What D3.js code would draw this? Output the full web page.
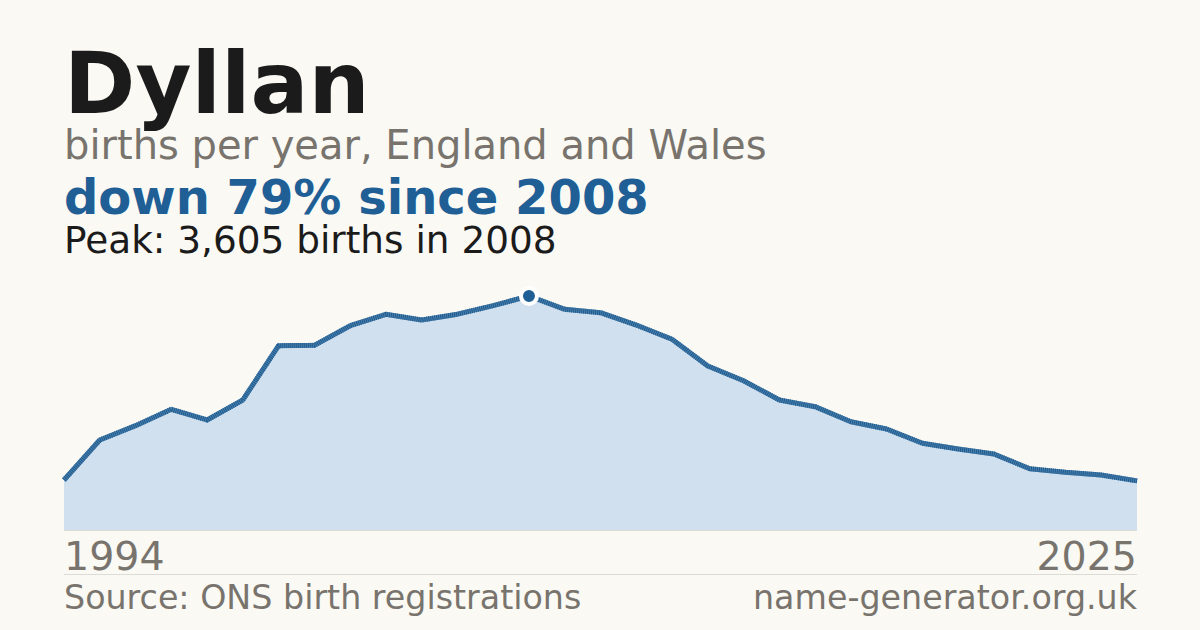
<!DOCTYPE html>
<html>
<head>
<meta charset="utf-8">
<script src="https://cdn.jsdelivr.net/npm/d3@7"></script>
<style>
  html, body { margin: 0; padding: 0; background: #faf9f4; }
  svg { display: block; font-family: "DejaVu Sans", sans-serif; }
</style>
</head>
<body>
<svg id="chart" width="1200" height="630"></svg>
<script>
// ONS publishes annual counts from 1996; 1994 is the earlier decade snapshot
var years = [1994, 1996, 1997, 1998, 1999, 2000, 2001, 2002, 2003, 2004, 2005,
             2006, 2007, 2008, 2009, 2010, 2011, 2012, 2013, 2014, 2015, 2016,
             2017, 2018, 2019, 2020, 2021, 2022, 2023, 2024, 2025];
var births = [770, 1387, 1607, 1859, 1695, 2003, 2840, 2845, 3147, 3323, 3235,
              3325, 3456, 3605, 3400, 3348, 3158, 2938, 2527, 2300, 2003, 1900,
              1668, 1556, 1336, 1248, 1171, 944, 889, 847, 757];

var name = 'Dyllan',
    subtitle = 'births per year, England and Wales',
    source = 'Source: ONS birth registrations',
    site = 'name-generator.org.uk';

var W = 1200, H = 630,
    left = 64, right = 1137,
    chartTop = 296, chartBottom = 530;

var data = years.map(function(y, i) { return {year: y, value: births[i]}; });
var peak = data.reduce(function(a, b) { return b.value > a.value ? b : a; });
var last = data[data.length - 1];
var pctDown = Math.round((1 - last.value / peak.value) * 100);

var svg = d3.select('#chart');

svg.append('rect').attr('width', W).attr('height', H).attr('fill', '#faf9f4');

var x = d3.scalePoint().domain(years).range([left, right]);
var y = d3.scaleLinear().domain([0, peak.value]).range([chartBottom, chartTop]);

// header text
svg.append('text')
    .attr('x', left).attr('y', 113)
    .style('font-size', '86px').style('font-weight', 'bold')
    .attr('fill', '#1b1b1b')
    .text(name);
svg.append('text')
    .attr('x', left).attr('y', 159)
    .style('font-size', '40px')
    .attr('fill', '#78746d')
    .text(subtitle);
svg.append('text')
    .attr('x', left).attr('y', 214)
    .style('font-size', '48px').style('font-weight', 'bold')
    .attr('fill', '#1f5f96')
    .text('down ' + pctDown + '% since ' + peak.year);
svg.append('text')
    .attr('x', left).attr('y', 253)
    .style('font-size', '37.4px')
    .attr('fill', '#1b1b1b')
    .text('Peak: ' + d3.format(',')(peak.value) + ' births in ' + peak.year);

// area + line
var area = d3.area()
    .x(function(d) { return x(d.year); })
    .y0(chartBottom)
    .y1(function(d) { return y(d.value); });
var line = d3.line()
    .x(function(d) { return x(d.year); })
    .y(function(d) { return y(d.value); });

svg.append('path')
    .datum(data)
    .attr('d', area)
    .attr('fill', '#d0e0ef');

svg.append('line')
    .attr('x1', left).attr('x2', right)
    .attr('y1', chartBottom + 0.5).attr('y2', chartBottom + 0.5)
    .attr('stroke', '#dcdcd6').attr('stroke-width', 1);

svg.append('path')
    .datum(data)
    .attr('d', line)
    .attr('fill', 'none')
    .attr('stroke', '#4a80ad')
    .attr('stroke-width', 5)
    .attr('stroke-linejoin', 'round');
svg.append('path')
    .datum(data)
    .attr('d', line)
    .attr('fill', 'none')
    .attr('stroke', '#1f5a8e')
    .attr('stroke-width', 5)
    .attr('stroke-dasharray', '1 1')
    .attr('stroke-linejoin', 'round');

// peak marker
svg.append('circle')
    .attr('cx', x(peak.year)).attr('cy', y(peak.value))
    .attr('r', 8)
    .attr('fill', '#1f5f96')
    .attr('stroke', '#ffffff')
    .attr('stroke-width', 4);

// year labels
svg.append('text')
    .attr('x', left).attr('y', 570)
    .style('font-size', '39.5px')
    .attr('fill', '#78746d')
    .text(years[0]);
svg.append('text')
    .attr('x', right).attr('y', 570)
    .attr('text-anchor', 'end')
    .style('font-size', '39.5px')
    .attr('fill', '#78746d')
    .text(years[years.length - 1]);

svg.append('line')
    .attr('x1', left).attr('x2', right)
    .attr('y1', 574.5).attr('y2', 574.5)
    .attr('stroke', '#dddbd5').attr('stroke-width', 1);

// footer
svg.append('text')
    .attr('x', left).attr('y', 609)
    .style('font-size', '33.3px')
    .attr('fill', '#78746d')
    .text(source);
svg.append('text')
    .attr('x', right).attr('y', 609)
    .attr('text-anchor', 'end')
    .style('font-size', '33.3px')
    .attr('fill', '#78746d')
    .text(site);
</script>
</body>
</html>
